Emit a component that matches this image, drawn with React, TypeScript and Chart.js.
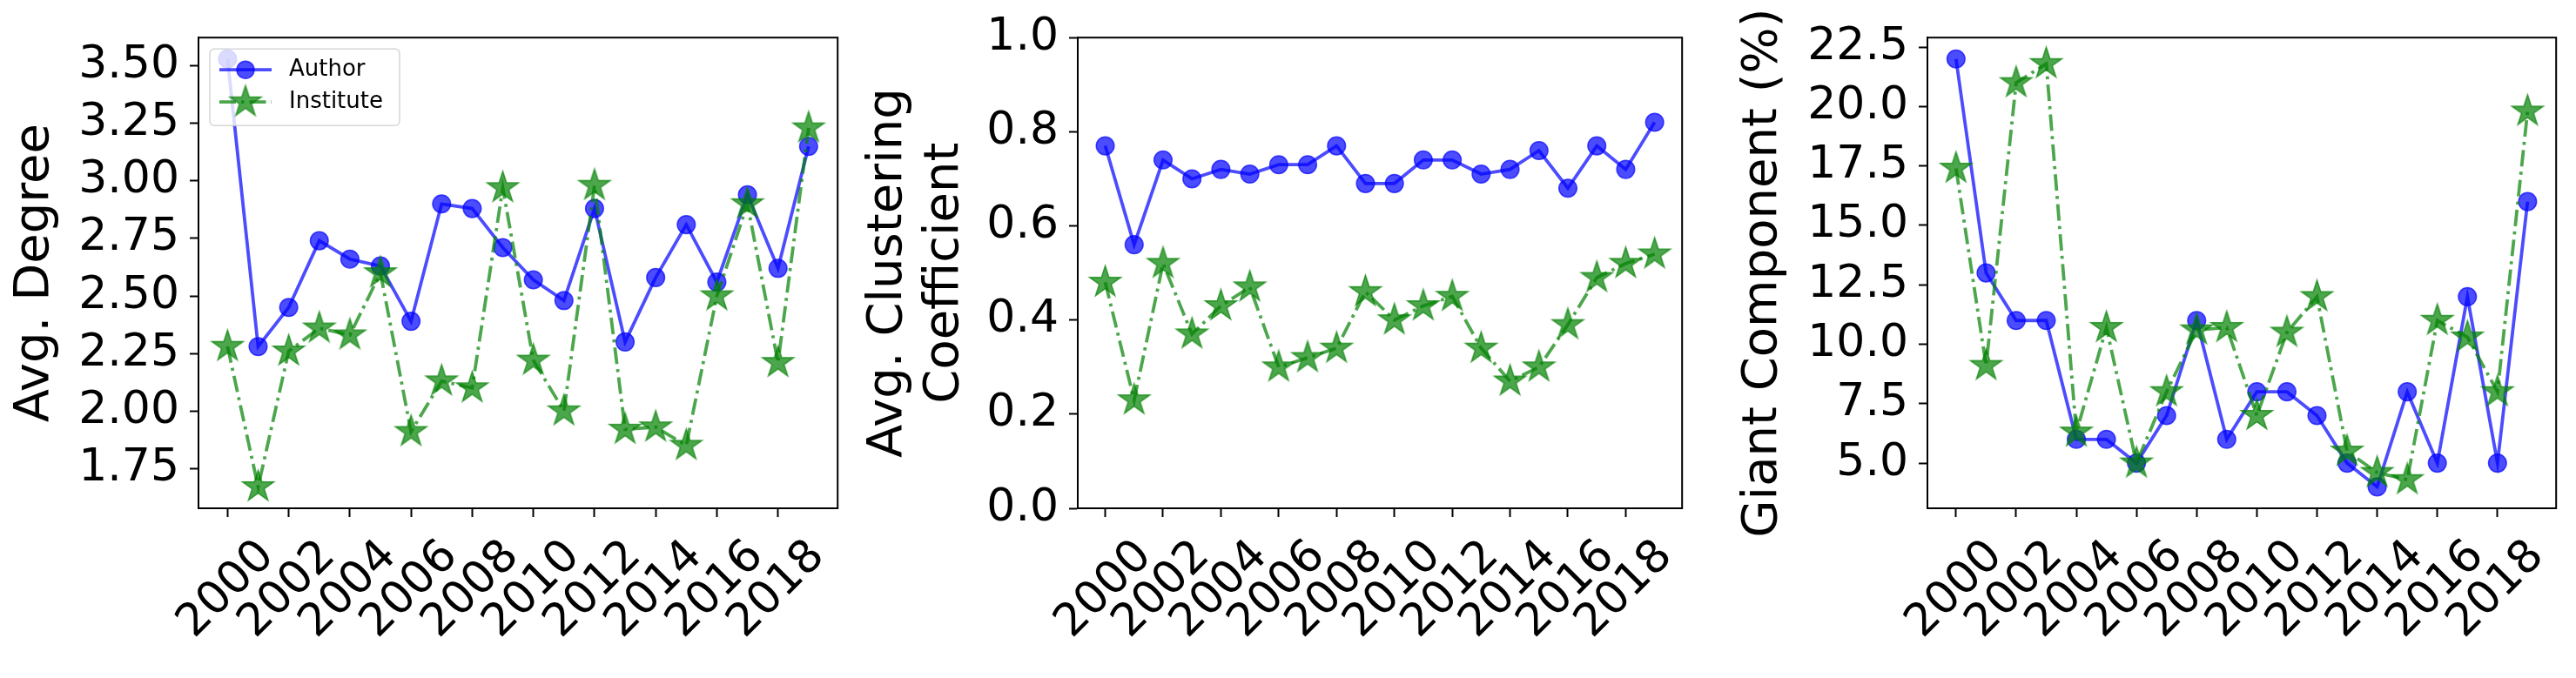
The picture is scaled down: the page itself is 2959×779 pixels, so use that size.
import React, { useEffect, useRef } from "react";
import { Chart, registerables } from "chart.js";

Chart.register(...registerables);

// ---------------- data ----------------
const years = [2000, 2001, 2002, 2003, 2004, 2005, 2006, 2007, 2008, 2009, 2010, 2011, 2012, 2013, 2014, 2015, 2016, 2017, 2018, 2019];
const xTickYears = [2000, 2002, 2004, 2006, 2008, 2010, 2012, 2014, 2016, 2018];
const seriesNames = ["Author", "Institute"];

const degreeAuthor = [3.53, 2.28, 2.45, 2.74, 2.66, 2.63, 2.39, 2.90, 2.88, 2.71, 2.57, 2.48, 2.88, 2.30, 2.58, 2.81, 2.56, 2.94, 2.62, 3.15];
const degreeInstitute = [2.28, 1.67, 2.26, 2.36, 2.33, 2.60, 1.91, 2.13, 2.10, 2.97, 2.22, 2.00, 2.98, 1.92, 1.93, 1.85, 2.50, 2.90, 2.21, 3.23];

const clusterAuthor = [0.77, 0.56, 0.74, 0.70, 0.72, 0.71, 0.73, 0.73, 0.77, 0.69, 0.69, 0.74, 0.74, 0.71, 0.72, 0.76, 0.68, 0.77, 0.72, 0.82];
const clusterInstitute = [0.48, 0.23, 0.52, 0.37, 0.43, 0.47, 0.30, 0.32, 0.34, 0.46, 0.40, 0.43, 0.45, 0.34, 0.27, 0.30, 0.39, 0.49, 0.52, 0.54];

const giantAuthor = [22, 13, 11, 11, 6, 6, 5, 7, 11, 6, 8, 8, 7, 5, 4, 8, 5, 12, 5, 16];
const giantInstitute = [17.4, 9.1, 21.0, 21.8, 6.3, 10.7, 5.0, 8.0, 10.6, 10.7, 7.0, 10.5, 12.0, 5.5, 4.6, 4.3, 11.0, 10.3, 8.0, 19.8];

const degreeTicks = [1.75, 2.0, 2.25, 2.5, 2.75, 3.0, 3.25, 3.5];
const clusterTicks = [0.0, 0.2, 0.4, 0.6, 0.8, 1.0];
const giantTicks = [5.0, 7.5, 10.0, 12.5, 15.0, 17.5, 20.0, 22.5];

const degreeTitle = "Avg. Degree";
const clusterTitle = ["Avg. Clustering", "Coefficient"];
const giantTitle = "Giant Component (%)";

// ---------------- styles ----------------
const FONT = "DejaVu Sans";
const BLUE = "rgba(0,0,255,0.7)";
const GREEN = "rgba(0,128,0,0.7)";
const DASH = [19, 6, 3.5, 6];
const LINE_W = 3.8;
const TICK_FONT = 52;
const TITLE_FONT = 56;
const H = 779;

function makeStar(R: number, lw: number): HTMLCanvasElement {
  const size = Math.ceil(2 * R + lw * 2 + 4);
  const c = document.createElement("canvas");
  c.width = size;
  c.height = size;
  const ctx = c.getContext("2d")!;
  const cx = size / 2;
  const cy = size / 2;
  ctx.beginPath();
  for (let i = 0; i < 10; i++) {
    const r = i % 2 === 0 ? R : R * 0.381966;
    const a = -Math.PI / 2 + (i * Math.PI) / 5;
    const x = cx + r * Math.cos(a);
    const y = cy + r * Math.sin(a);
    if (i === 0) ctx.moveTo(x, y);
    else ctx.lineTo(x, y);
  }
  ctx.closePath();
  ctx.fillStyle = GREEN;
  ctx.fill();
  ctx.lineWidth = lw;
  ctx.lineJoin = "miter";
  ctx.strokeStyle = GREEN;
  ctx.stroke();
  return c;
}

let STAR: HTMLCanvasElement | null = null;
function getStar() {
  if (!STAR) STAR = makeStar(19, 1.5);
  return STAR;
}

function padRange(arrs: number[][]): [number, number] {
  const all = arrs.flat();
  const mn = Math.min(...all);
  const mx = Math.max(...all);
  const m = (mx - mn) * 0.05;
  return [mn - m, mx + m];
}

interface PanelSpec {
  key: string;
  left: number;
  width: number;
  yWidth: number;
  padRight: number;
  titlePad: number;
  titleLineHeight: number;
  title: string | string[];
  a: number[];
  b: number[];
  yTicks: number[];
  range: [number, number];
  dec: number;
  legend: boolean;
}

const panels: PanelSpec[] = [
  {
    key: "deg", left: 0, width: 985, yWidth: 228, padRight: 13, titlePad: 7, titleLineHeight: 1.2,
    title: degreeTitle, a: degreeAuthor, b: degreeInstitute, yTicks: degreeTicks,
    range: padRange([degreeAuthor, degreeInstitute]), dec: 2, legend: true,
  },
  {
    key: "clu", left: 985, width: 970, yWidth: 253, padRight: 16, titlePad: 3, titleLineHeight: 1.16,
    title: clusterTitle, a: clusterAuthor, b: clusterInstitute, yTicks: clusterTicks,
    range: [0, 1], dec: 1, legend: false,
  },
  {
    key: "gia", left: 1955, width: 1004, yWidth: 259, padRight: 22, titlePad: 37, titleLineHeight: 1.2,
    title: giantTitle, a: giantAuthor, b: giantInstitute, yTicks: giantTicks,
    range: padRange([giantAuthor, giantInstitute]), dec: 1, legend: false,
  },
];

const framePlugin = {
  id: "frame",
  afterDatasetsDraw(chart: any) {
    const { ctx, chartArea } = chart;
    ctx.save();
    ctx.strokeStyle = "#000";
    ctx.lineWidth = 2;
    ctx.strokeRect(chartArea.left, chartArea.top, chartArea.right - chartArea.left, chartArea.bottom - chartArea.top);
    ctx.restore();
  },
};

const xLabelPlugin = {
  id: "xlabels",
  afterDraw(chart: any) {
    const { ctx, chartArea } = chart;
    const xs = chart.scales.x;
    ctx.save();
    ctx.font = `${TICK_FONT}px "${FONT}"`;
    ctx.fillStyle = "#000";
    ctx.textAlign = "center";
    ctx.textBaseline = "alphabetic";
    const cy = chartArea.bottom + 90;
    xTickYears.forEach((v) => {
      const px = xs.getPixelForValue(v) - 5;
      ctx.save();
      ctx.translate(px, cy);
      ctx.rotate(-Math.PI / 4);
      ctx.fillText(String(v), 0, 0.364 * TICK_FONT);
      ctx.restore();
    });
    ctx.restore();
  },
};

const legendPlugin = {
  id: "insideLegend",
  afterDraw(chart: any) {
    const { ctx, chartArea } = chart;
    const bx = chartArea.left + 13;
    const by = chartArea.top + 13;
    const bw = 218;
    const bh = 88;
    ctx.save();
    ctx.beginPath();
    const r = 5;
    ctx.moveTo(bx + r, by);
    ctx.lineTo(bx + bw - r, by);
    ctx.arcTo(bx + bw, by, bx + bw, by + r, r);
    ctx.lineTo(bx + bw, by + bh - r);
    ctx.arcTo(bx + bw, by + bh, bx + bw - r, by + bh, r);
    ctx.lineTo(bx + r, by + bh);
    ctx.arcTo(bx, by + bh, bx, by + bh - r, r);
    ctx.lineTo(bx, by + r);
    ctx.arcTo(bx, by, bx + r, by, r);
    ctx.closePath();
    ctx.fillStyle = "rgba(255,255,255,0.8)";
    ctx.fill();
    ctx.strokeStyle = "rgba(204,204,204,0.8)";
    ctx.lineWidth = 1.5;
    ctx.stroke();

    const lx0 = bx + 11;
    const lx1 = bx + 71;
    const mx = (lx0 + lx1) / 2;
    const y1 = by + 24;
    const y2 = by + 61;
    // Author
    ctx.strokeStyle = BLUE;
    ctx.lineWidth = LINE_W;
    ctx.beginPath();
    ctx.moveTo(lx0, y1);
    ctx.lineTo(lx1, y1);
    ctx.stroke();
    ctx.beginPath();
    ctx.arc(mx, y1, 10, 0, Math.PI * 2);
    ctx.fillStyle = BLUE;
    ctx.fill();
    ctx.lineWidth = 1.5;
    ctx.stroke();
    // Institute
    ctx.setLineDash(DASH);
    ctx.strokeStyle = GREEN;
    ctx.lineWidth = LINE_W;
    ctx.beginPath();
    ctx.moveTo(lx0, y2);
    ctx.lineTo(lx1, y2);
    ctx.stroke();
    ctx.setLineDash([]);
    const st = getStar();
    ctx.drawImage(st, mx - st.width / 2, y2 - st.height / 2);
    // texts
    ctx.fillStyle = "#000";
    ctx.font = `26px "${FONT}"`;
    ctx.textAlign = "left";
    ctx.textBaseline = "middle";
    ctx.fillText(seriesNames[0], bx + 91, y1);
    ctx.fillText(seriesNames[1], bx + 91, y2);
    ctx.restore();
  },
};

function makeConfig(p: PanelSpec): any {
  const plugins: any[] = [framePlugin, xLabelPlugin];
  if (p.legend) plugins.push(legendPlugin);
  const gridOpts = {
    display: true,
    drawOnChartArea: false,
    drawTicks: true,
    tickLength: 10,
    tickWidth: 2,
    tickColor: "#000",
  };
  return {
    type: "line",
    data: {
      datasets: [
        {
          label: seriesNames[0],
          data: years.map((y, i) => ({ x: y, y: p.a[i] })),
          borderColor: BLUE,
          backgroundColor: BLUE,
          borderWidth: LINE_W,
          pointStyle: "circle",
          pointRadius: 10.3,
          pointBorderWidth: 1.5,
          pointBackgroundColor: BLUE,
          pointBorderColor: BLUE,
          tension: 0,
          order: 1,
        },
        {
          label: seriesNames[1],
          data: years.map((y, i) => ({ x: y, y: p.b[i] })),
          borderColor: GREEN,
          backgroundColor: GREEN,
          borderWidth: LINE_W,
          borderDash: DASH,
          pointStyle: getStar(),
          pointRadius: 19,
          tension: 0,
          order: 0,
        },
      ],
    },
    options: {
      animation: false,
      responsive: false,
      devicePixelRatio: 1,
      layout: { padding: { left: 0, top: 35, right: p.padRight, bottom: 0 } },
      plugins: { legend: { display: false }, tooltip: { enabled: false } },
      scales: {
        x: {
          type: "linear",
          min: 1999.05,
          max: 2019.95,
          afterBuildTicks: (s: any) => {
            s.ticks = xTickYears.map((v) => ({ value: v }));
          },
          afterFit: (s: any) => {
            s.height = H - 35 - 549;
          },
          ticks: { display: false, autoSkip: false },
          grid: gridOpts,
          border: { display: true, color: "#000", width: 2 },
        },
        y: {
          type: "linear",
          min: p.range[0],
          max: p.range[1],
          afterBuildTicks: (s: any) => {
            s.ticks = p.yTicks.map((v) => ({ value: v }));
          },
          afterFit: (s: any) => {
            s.width = p.yWidth;
          },
          ticks: {
            autoSkip: false,
            color: "#000",
            padding: 12,
            font: { family: FONT, size: TICK_FONT },
            callback: (v: any) => Number(v).toFixed(p.dec),
          },
          grid: gridOpts,
          border: { display: true, color: "#000", width: 2 },
          title: {
            display: true,
            text: p.title,
            color: "#000",
            font: { family: FONT, size: TITLE_FONT, lineHeight: p.titleLineHeight },
            padding: { top: p.titlePad, bottom: 0 },
          },
        },
      },
    },
    plugins,
  };
}

function Panel({ spec }: { spec: PanelSpec }) {
  const ref = useRef<HTMLCanvasElement>(null);
  useEffect(() => {
    if (!ref.current) return;
    const chart = new Chart(ref.current, makeConfig(spec));
    return () => chart.destroy();
  }, [spec]);
  return (
    <canvas
      ref={ref}
      width={spec.width}
      height={H}
      style={{ position: "absolute", left: spec.left, top: 0, width: spec.width, height: H, display: "block" }}
    />
  );
}

export default function App() {
  return (
    <div
      style={{
        position: "absolute",
        left: 0,
        top: 0,
        width: 2959,
        height: H,
        overflow: "hidden",
        background: "#fff",
      }}
    >
      {panels.map((p) => (
        <Panel key={p.key} spec={p} />
      ))}
    </div>
  );
}
